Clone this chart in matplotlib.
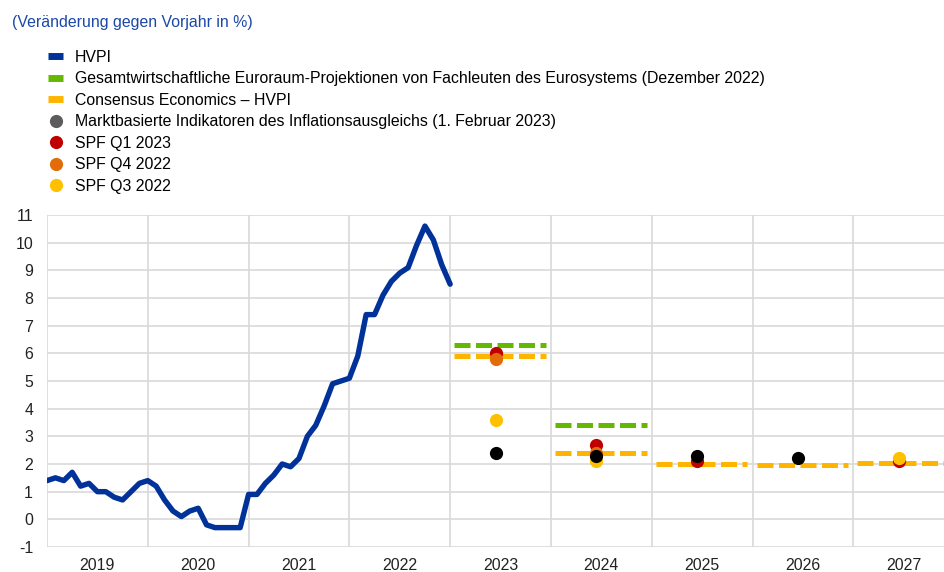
import numpy as np
import matplotlib.pyplot as plt
from matplotlib.lines import Line2D

# HVPI, monthly y/y change in %, Jan 2019 - Jan 2023
hicp_2019 = [1.4, 1.5, 1.4, 1.7, 1.2, 1.3, 1.0, 1.0, 0.8, 0.7, 1.0, 1.3]
hicp_2020 = [1.4, 1.2, 0.7, 0.3, 0.1, 0.3, 0.4, -0.2, -0.3, -0.3, -0.3, -0.3]
hicp_2021 = [0.9, 0.9, 1.3, 1.6, 2.0, 1.9, 2.2, 3.0, 3.4, 4.1, 4.9, 5.0]
hicp_2022 = [5.1, 5.9, 7.4, 7.4, 8.1, 8.6, 8.9, 9.1, 9.9, 10.6, 10.1, 9.2]
hicp_2023 = [8.5]

# annual projections / expectations
proj_years = [2023, 2024, 2025, 2026, 2027]
eurosystem = [6.3, 3.4, np.nan, np.nan, np.nan]
consensus = [5.9, 2.4, 2.0, 1.95, 2.05]
market = [2.4, 2.3, 2.3, 2.2, np.nan]
spf_q1_2023 = [6.0, 2.7, 2.1, np.nan, 2.1]
spf_q4_2022 = [5.8, 2.4, np.nan, np.nan, np.nan]
spf_q3_2022 = [3.6, 2.1, np.nan, np.nan, 2.2]

year_labels = ['2019', '2020', '2021', '2022', '2023', '2024', '2025', '2026', '2027']
y_ticks = list(range(-1, 12))

BLUE = '#003299'
GREEN = '#65b800'
GOLD = '#ffb400'
RED = '#c00000'
ORANGE = '#e36c0a'
YELLOW = '#ffc000'
GREY = '#5c5c5c'

plt.rcParams['font.family'] = ['Liberation Sans', 'DejaVu Sans']
fs = 11.4

fig = plt.figure(figsize=(9.44, 5.72), dpi=100)
ax = fig.add_axes([47/944, 1-547/572, 1-47/944, (547-215)/572])

hicp = hicp_2019 + hicp_2020 + hicp_2021 + hicp_2022 + hicp_2023
t = 2019 + np.arange(len(hicp))/12.0
ax.plot(t, hicp, color=BLUE, lw=3.9, solid_capstyle='round', solid_joinstyle='round', zorder=3)

dash = (3.2, 1.1)
for y, v in zip(proj_years, eurosystem):
    if not np.isnan(v):
        ax.plot([y+0.04, y+0.95], [v, v], color=GREEN, lw=3.6, dashes=dash, dash_capstyle='butt', zorder=3)
for y, v in zip(proj_years, consensus):
    if not np.isnan(v):
        ax.plot([y+0.04, y+0.95], [v, v], color=GOLD, lw=3.6, dashes=dash, dash_capstyle='butt', zorder=3)

mx = np.array(proj_years) + 0.45
ms = 9.5
ax.plot(mx, spf_q1_2023, 'o', color=RED, ms=ms, mew=0, zorder=4)
ax.plot(mx, spf_q4_2022, 'o', color=ORANGE, ms=ms, mew=0, zorder=5)
ax.plot(mx, spf_q3_2022, 'o', color=YELLOW, ms=ms, mew=0, zorder=6)
ax.plot(mx, market, 'o', color='black', ms=ms, mew=0, zorder=7)

ax.set_xlim(2019, 2027.9)
ax.set_ylim(-1, 11)
ax.set_yticks(y_ticks)
ax.set_yticklabels([str(v) for v in y_ticks])
ax.set_xticks(np.arange(2019, 2028))
ax.set_xticklabels([])
ax.set_xticks(np.arange(2019, 2028) + 0.5, minor=True)
ax.set_xticklabels(year_labels, minor=True)
ax.tick_params(axis='both', which='both', length=0, labelsize=fs, colors='#222222')
ax.tick_params(axis='y', pad=10)
ax.tick_params(axis='x', which='minor', pad=8)
ax.grid(True, which='major', color='#d9d9d9', lw=1.2)
ax.set_axisbelow(True)
for s in ax.spines.values():
    s.set_visible(False)

fig.text(12/944, 1-22/572, '(Veränderung gegen Vorjahr in %)', color='#1c48a8', fontsize=fs, va='center')

handles = [
    Line2D([], [], color=BLUE, lw=5, solid_capstyle='butt'),
    Line2D([], [], color=GREEN, lw=5, solid_capstyle='butt'),
    Line2D([], [], color=GOLD, lw=5, solid_capstyle='butt'),
    Line2D([], [], ls='', marker='o', color=GREY, ms=ms, mew=0),
    Line2D([], [], ls='', marker='o', color=RED, ms=ms, mew=0),
    Line2D([], [], ls='', marker='o', color=ORANGE, ms=ms, mew=0),
    Line2D([], [], ls='', marker='o', color=YELLOW, ms=ms, mew=0),
]
labels = [
    'HVPI',
    'Gesamtwirtschaftliche Euroraum-Projektionen von Fachleuten des Eurosystems (Dezember 2022)',
    'Consensus Economics \u2013 HVPI',
    'Marktbasierte Indikatoren des Inflationsausgleichs (1. Februar 2023)',
    'SPF Q1 2023',
    'SPF Q4 2022',
    'SPF Q3 2022',
]
fig.legend(handles, labels, loc='upper left', bbox_to_anchor=(48/944, 1-50/572),
           frameon=False, fontsize=fs, handlelength=0.95, handletextpad=0.76,
           labelspacing=0.41, borderaxespad=0, borderpad=0)

fig.savefig('out.png', dpi=100)
